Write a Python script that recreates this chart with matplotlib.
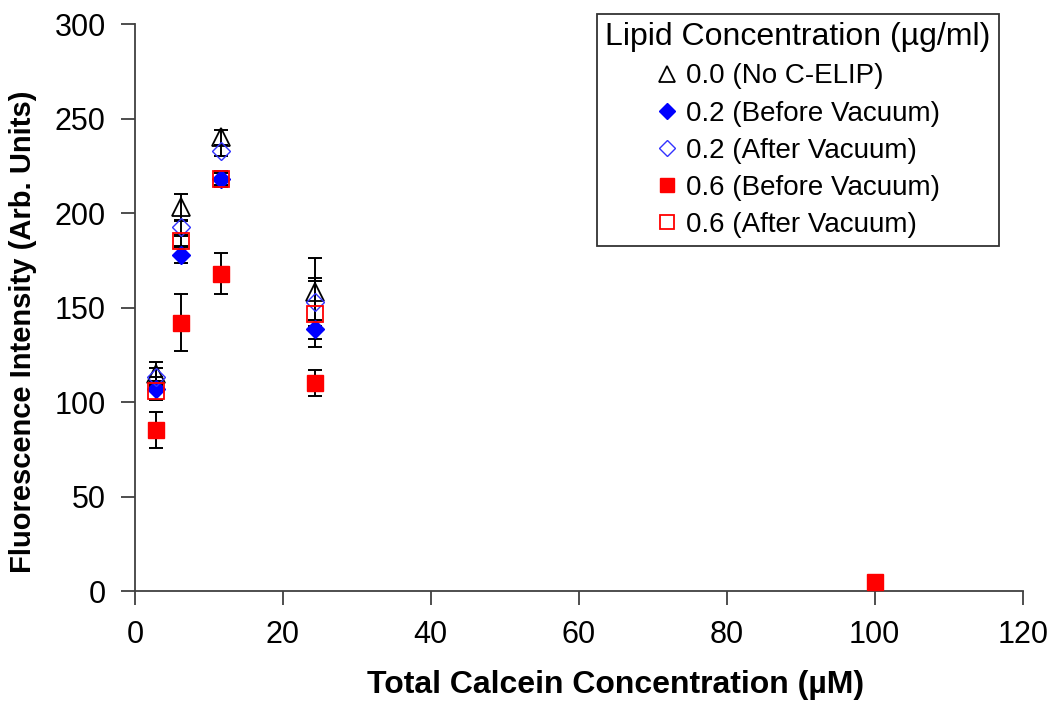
import matplotlib
matplotlib.use("Agg")
import matplotlib.pyplot as pyplot
from matplotlib.lines import Line2D

pyplot.rcParams["font.family"] = ["Liberation Sans", "DejaVu Sans"]

# total calcein concentration (uM)
calcein = [2.8, 6.2, 11.6, 24.4]
calcein_red = [2.8, 6.2, 11.6, 24.4, 100.0]

# fluorescence intensity (arb. units) and error bars
no_elip = [115, 203, 240, 158]
no_elip_err = [6, 7, 4, 18]
before_02 = [107, 178, 218, 138.5]
before_02_err = [6, 4.5, 4, 5]
after_02 = [113, 192.5, 233, 153]
after_02_err = [5, 4, 3, 12.5]
before_06 = [85, 142, 168, 110, 5]
before_06_err = [9.5, 15, 11, 7, 0]
after_06 = [106, 185, 218, 146.5]
after_06_err = [5, 3, 3, 17.5]

labels = [
    "0.0 (No C-ELIP)",
    "0.2 (Before Vacuum)",
    "0.2 (After Vacuum)",
    "0.6 (Before Vacuum)",
    "0.6 (After Vacuum)",
]

series = [
    (calcein, no_elip, no_elip_err,
     dict(marker="^", ms=13, mfc="none", mec="black", mew=1.3)),
    (calcein, before_02, before_02_err,
     dict(marker="D", ms=9, mfc="#0000FF", mec="#0000FF", mew=1.0)),
    (calcein, after_02, after_02_err,
     dict(marker="D", ms=9, mfc="none", mec="#3333FF", mew=1.0)),
    (calcein_red, before_06, before_06_err,
     dict(marker="s", ms=11.5, mfc="#FF0000", mec="#FF0000", mew=1.0)),
    (calcein, after_06, after_06_err,
     dict(marker="s", ms=11.5, mfc="none", mec="#FF0000", mew=1.3)),
]

fig = pyplot.figure(figsize=(10.5, 7.02), dpi=100)
ax = fig.add_axes([0.1284, 0.158, 0.8456, 0.8078])

handles = []
for (xs, ys, errs, style), label in zip(series, labels):
    ax.errorbar(xs, ys, yerr=errs, fmt="none", ecolor="black",
                elinewidth=1.4, capsize=5, capthick=1.4, zorder=2)
    ax.plot(xs, ys, linestyle="none", zorder=3, **style)
    legend_style = dict(style)
    legend_style["ms"] = style["ms"] * 0.85
    handles.append(Line2D([], [], linestyle="none", label=label, **legend_style))

ax.set_xlim(0, 120)
ax.set_ylim(0, 300)
ax.set_xticks(range(0, 121, 20))
ax.set_yticks(range(0, 301, 50))

for side in ["top", "right"]:
    ax.spines[side].set_visible(False)
for side in ["left", "bottom"]:
    ax.spines[side].set_color("#404040")
    ax.spines[side].set_linewidth(1.3)
ax.tick_params(direction="out", length=10, width=1.3, color="#404040",
               labelsize=22, pad=11)

ax.set_xlabel("Total Calcein Concentration (\u00b5M)", fontsize=23,
              fontweight="bold")
ax.xaxis.set_label_coords(0.542, -0.140)
ax.set_ylabel("Fluorescence Intensity (Arb. Units)", fontsize=21,
              fontweight="bold")
ax.yaxis.set_label_coords(-0.110, 0.457)

leg = ax.legend(handles=handles, title="Lipid Concentration (\u00b5g/ml)",
                loc="upper right", bbox_to_anchor=(0.9733, 1.0176),
                fontsize=20, title_fontsize=23, frameon=True, fancybox=False,
                handlelength=0.8, handletextpad=0.3, labelspacing=0.4,
                borderpad=0.3, borderaxespad=0.0)
leg.get_frame().set_edgecolor("black")
leg.get_frame().set_linewidth(1.3)

pyplot.savefig("out.png", dpi=100)
